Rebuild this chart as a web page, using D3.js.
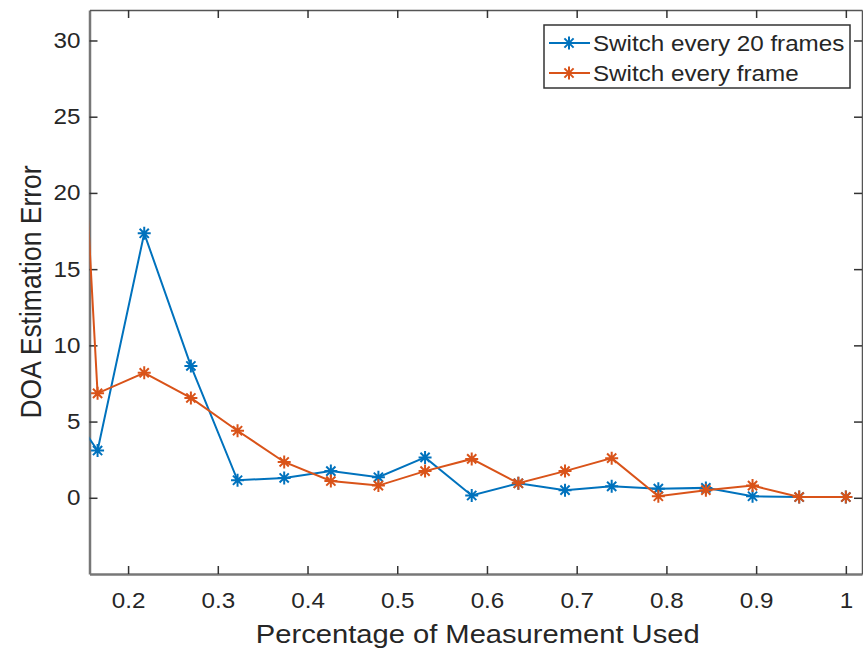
<!DOCTYPE html>
<html>
<head>
<meta charset="utf-8">
<script src="https://cdn.jsdelivr.net/npm/d3@7"></script>
<style>
    body { margin: 0; background: #fff; }
    svg { display: block; font-family: "Liberation Sans", Arial, sans-serif; }
</style>
</head>
<body>
<svg id="chart" width="863" height="650"></svg>
<script>
// values (first point lies left of the visible x range)
const pct = [0.114, 0.166, 0.218, 0.270, 0.322, 0.374, 0.426, 0.479, 0.531, 0.583,
    0.635, 0.687, 0.739, 0.791, 0.844, 0.896, 0.948, 1.0];
const every20 = [7.6, 3.1, 17.35, 8.65, 1.15, 1.3, 1.75, 1.35, 2.65, 0.15,
    0.95, 0.5, 0.75, 0.6, 0.65, 0.1, 0.05, 0.05];
const everyFrame = [63, 6.85, 8.2, 6.55, 4.4, 2.35, 1.1, 0.8, 1.75, 2.55,
    0.95, 1.75, 2.6, 0.1, 0.5, 0.8, 0.05, 0.05];
const seriesNames = ["Switch every 20 frames", "Switch every frame"];
const seriesColors = ["#0072BD", "#D95319"];
const xTicks = [0.2, 0.3, 0.4, 0.5, 0.6, 0.7, 0.8, 0.9, 1];
const yTicks = [0, 5, 10, 15, 20, 25, 30];
const xLim = [0.157, 1.018];
const yLim = [-5, 32];

let box = {left: 89.5, right: 862, top: 10, bottom: 574};
let stretchX = 1.1;

let svg = d3.select("#chart");

let x = d3.scaleLinear().domain(xLim).range([box.left, box.right]);
let y = d3.scaleLinear().domain(yLim).range([box.bottom, box.top]);

// widen text a little, around its anchor, like the reference
function stretch(sel) {
    sel.each(function () {
        let t = d3.select(this);
        let ax = +t.attr("x") || 0;
        t.attr("transform", "translate(" + ax + ",0) scale(" + stretchX + ",1) translate(" + (-ax) + ",0)");
    });
}

svg.append("defs").append("clipPath").attr("id", "plotClip")
    .append("rect")
    .attr("x", box.left).attr("y", box.top)
    .attr("width", box.right - box.left).attr("height", box.bottom - box.top);

// axes
let fmt = d => d3.format("")(d);
let gx = svg.append("g")
    .attr("transform", "translate(0," + box.bottom + ")")
    .call(d3.axisBottom(x).tickValues(xTicks).tickFormat(fmt).tickSizeInner(-8).tickSizeOuter(0).tickPadding(18));
let gy = svg.append("g")
    .attr("transform", "translate(" + box.left + ",0)")
    .call(d3.axisLeft(y).tickValues(yTicks).tickSizeInner(-8).tickSizeOuter(0).tickPadding(9));
let gxTop = svg.append("g")
    .attr("transform", "translate(0," + box.top + ")")
    .call(d3.axisTop(x).tickValues(xTicks).tickFormat("").tickSizeInner(-8).tickSizeOuter(0));
let gyRight = svg.append("g")
    .attr("transform", "translate(" + box.right + ",0)")
    .call(d3.axisRight(y).tickValues(yTicks).tickFormat("").tickSizeInner(-8).tickSizeOuter(0));

[gx, gy, gxTop, gyRight].forEach(g => {
    g.selectAll(".tick line").attr("stroke", "#333").attr("stroke-width", 1.5);
    g.selectAll("text").attr("fill", "#262626").style("font-size", "22px")
        .style("font-family", "'Liberation Sans', Arial, sans-serif");
});
gx.selectAll(".domain").attr("stroke", "#777").attr("stroke-width", 2.5);
gy.selectAll(".domain").attr("stroke", "#777").attr("stroke-width", 2.5);
gxTop.selectAll(".domain").attr("stroke", "#555").attr("stroke-width", 1.5);
gyRight.selectAll(".domain").attr("stroke", "#555").attr("stroke-width", 1.5);
stretch(gy.selectAll("text"));
gx.selectAll("text").attr("transform", "scale(" + stretchX + ",1)");

// axis titles
svg.append("text")
    .attr("x", (box.left + box.right) / 2 + 2)
    .attr("y", 643)
    .attr("text-anchor", "middle")
    .attr("fill", "#262626")
    .style("font-size", "26.5px")
    .text("Percentage of Measurement Used")
    .call(stretch);

svg.append("text")
    .attr("transform", "translate(41," + ((box.top + box.bottom) / 2) + ") scale(" + stretchX + ",1) rotate(-90)")
    .attr("text-anchor", "middle")
    .attr("fill", "#262626")
    .style("font-size", "26.5px")
    .text("DOA Estimation Error");

// asterisk marker: plus + cross
function asterisk(r) {
    let d = r * Math.SQRT1_2;
    return "M" + (-r) + ",0H" + r + "M0," + (-r) + "V" + r +
        "M" + (-d) + "," + (-d) + "L" + d + "," + d +
        "M" + (-d) + "," + d + "L" + d + "," + (-d);
}

let line = d3.line().x(d => x(d[0])).y(d => y(d[1]));
let plot = svg.append("g").attr("clip-path", "url(#plotClip)");

[every20, everyFrame].forEach((vals, i) => {
    let pts = pct.map((p, k) => [p, vals[k]]);
    plot.append("path")
        .datum(pts)
        .attr("fill", "none")
        .attr("stroke", seriesColors[i])
        .attr("stroke-width", 2)
        .attr("d", line);
    plot.selectAll(".m" + i)
        .data(pts)
        .enter().append("path")
        .attr("class", "m" + i)
        .attr("transform", d => "translate(" + x(d[0]) + "," + y(d[1]) + ")")
        .attr("d", asterisk(6.5))
        .attr("stroke", seriesColors[i])
        .attr("stroke-width", 2)
        .attr("fill", "none");
});

// legend
let lg = svg.append("g");
lg.append("rect")
    .attr("x", 544).attr("y", 25)
    .attr("width", 306).attr("height", 63)
    .attr("fill", "#fff")
    .attr("stroke", "#333")
    .attr("stroke-width", 1.5);

seriesNames.forEach((name, i) => {
    let cy = 43 + i * 30;
    lg.append("line")
        .attr("x1", 549).attr("x2", 590)
        .attr("y1", cy).attr("y2", cy)
        .attr("stroke", seriesColors[i]).attr("stroke-width", 2);
    lg.append("path")
        .attr("transform", "translate(569," + cy + ")")
        .attr("d", asterisk(6.5))
        .attr("stroke", seriesColors[i]).attr("stroke-width", 2);
    lg.append("text")
        .attr("x", 593).attr("y", cy)
        .attr("dy", "0.35em")
        .attr("fill", "#262626")
        .style("font-size", "22px")
        .text(name)
        .call(stretch);
});
</script>
</body>
</html>
